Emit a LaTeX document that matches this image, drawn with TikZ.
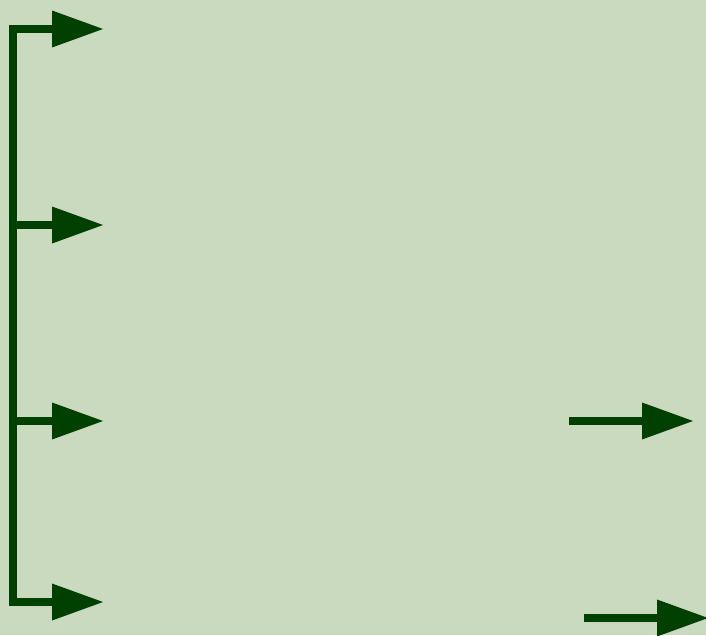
\documentclass[tikz,border=0pt]{standalone}
\usepackage{tikz}
\usetikzlibrary{arrows.meta}
\definecolor{bgreen}{RGB}{201,218,190}
\definecolor{dgreen}{RGB}{0,64,0}
\tikzset{
  feed/.style={draw=dgreen,line width=8pt,-{Triangle[length=51pt,width=37pt,line width=0pt]}},
  bus/.style={draw=dgreen,line width=8pt,line cap=rect}
}
\begin{document}
\begin{tikzpicture}[x=1pt,y=-1pt]
\fill[bgreen](0,0)rectangle(706,635);
\useasboundingbox(0,0)rectangle(706,635);
\coordinate(bustop) at (13,29);
\coordinate(busbot) at (13,602);
\draw[bus](bustop)--(busbot);
\foreach \name/\y in {a/29,b/225,c/421,d/602}{
  \coordinate(\name0) at (13,\y);
  \coordinate(\name1) at (103,\y);
  \draw[feed](\name0)--(\name1);
}
\coordinate(e0) at (569,421);
\coordinate(e1) at (693,421);
\draw[feed](e0)--(e1);
\coordinate(f0) at (584,618);
\coordinate(f1) at (708,618);
\draw[feed](f0)--(f1);
\end{tikzpicture}
\end{document}
